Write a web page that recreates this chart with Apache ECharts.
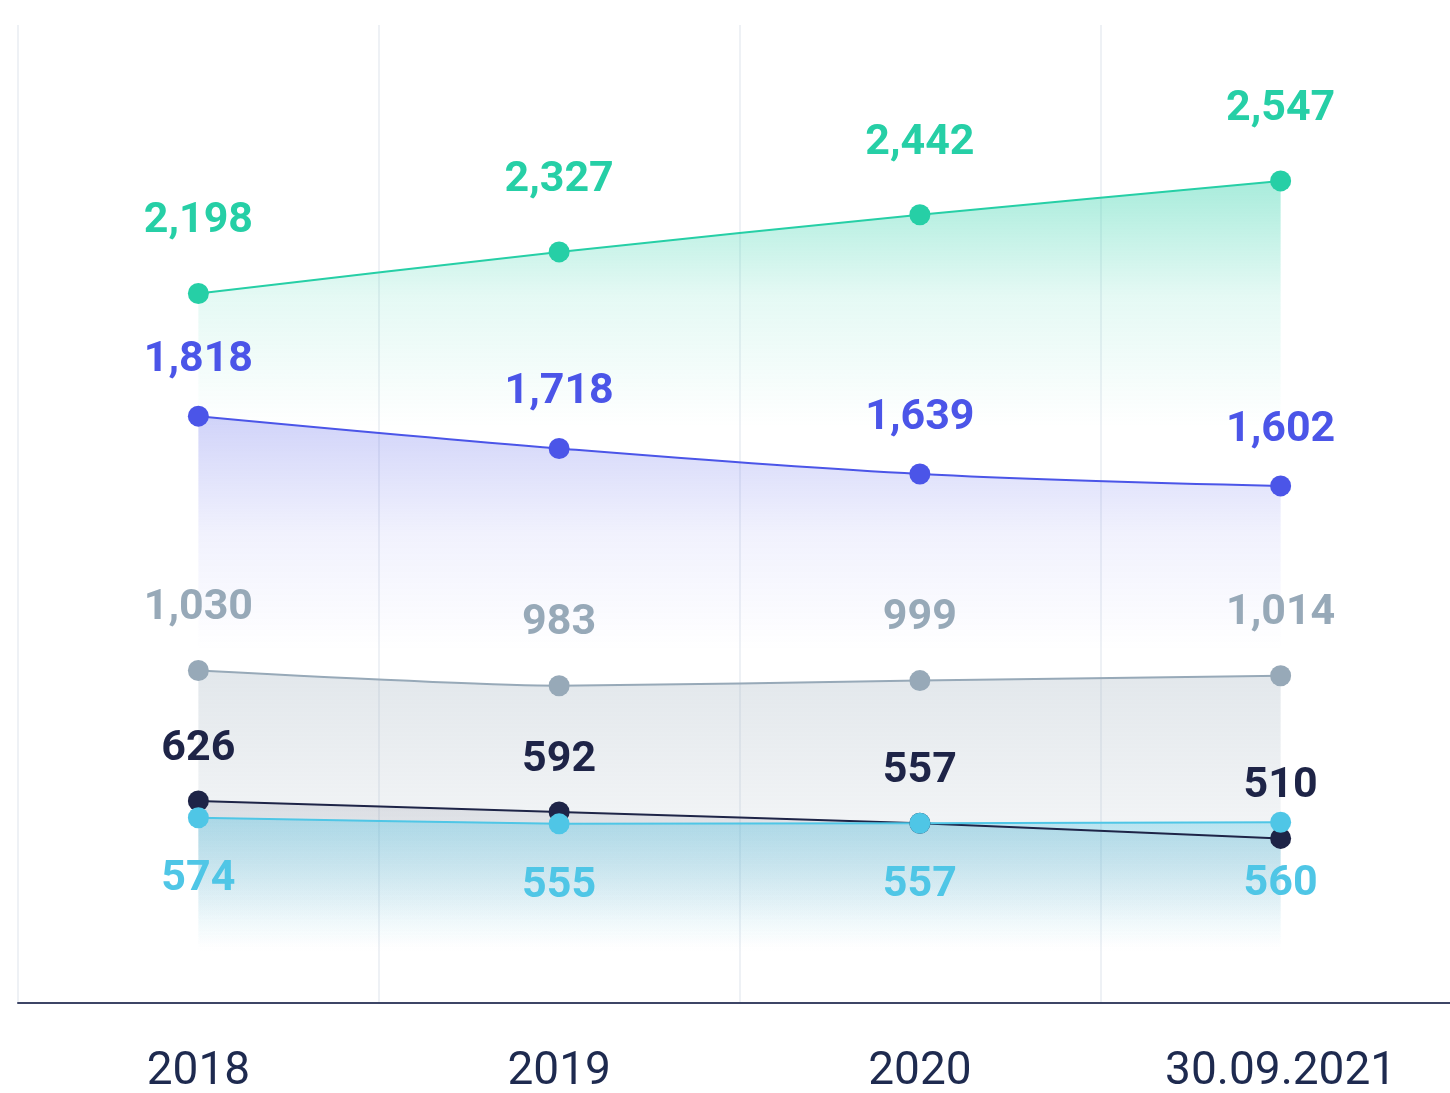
<!DOCTYPE html>
<html>
<head>
<meta charset="utf-8">
<script src="https://cdn.jsdelivr.net/npm/echarts@6/dist/echarts.min.js"></script>
<style>
  html, body { margin: 0; padding: 0; background: #fff; }
  #chart { width: 1450px; height: 1093px; }
</style>
</head>
<body>
<div id="chart"></div>
<script>
// categories and values
var years = ['2018', '2019', '2020', '30.09.2021']
var greenValues = [2198, 2327, 2442, 2547]
var purpleValues = [1818, 1718, 1639, 1602]
var greyValues = [1030, 983, 999, 1014]
var navyValues = [626, 592, 557, 510]
var blueValues = [574, 555, 557, 560]

var fontLabel = 'Roboto, "Noto Sans", sans-serif'

function fade(color, stops) {
  // vertical gradient from the line down to the axis
  return new echarts.graphic.LinearGradient(0, 0, 0, 1, stops.map(function (s) {
    return { offset: s[0], color: 'rgba(' + color + ',' + s[1] + ')' }
  }))
}

function makeSeries(name, values, color, rgb, stops, pos, dist, smooth) {
  return {
    name: name,
    type: 'line',
    data: values,
    smooth: smooth,
    symbol: 'circle',
    symbolSize: 21,
    lineStyle: { color: color, width: 2 },
    itemStyle: { color: color },
    areaStyle: { color: fade(rgb, stops), opacity: 1 },
    label: {
      show: true,
      position: pos,
      distance: dist,
      color: color,
      fontFamily: fontLabel,
      fontWeight: 'bold',
      fontSize: 43,
      formatter: function (p) {
        return p.value.toLocaleString('en-US')
      }
    }
  }
}

var chart = echarts.init(document.getElementById('chart'))

var option = {
  animation: false,
  grid: {
    left: 18,
    top: 25,
    bottom: 90,
    width: 1443,
    outerBoundsMode: 'none',
    containLabel: false
  },
  xAxis: {
    type: 'category',
    data: years,
    boundaryGap: true,
    axisLine: { lineStyle: { color: '#3d4566', width: 2 } },
    axisTick: { show: false },
    axisLabel: {
      color: '#1e2a4f',
      fontFamily: fontLabel,
      fontSize: 46,
      margin: 46
    },
    splitLine: { show: true, lineStyle: { color: '#eef1f5', width: 2 } }
  },
  yAxis: {
    type: 'value',
    min: 0,
    max: 3030,
    show: false,
    splitLine: { show: false }
  },
  series: [
    makeSeries('green', greenValues, '#26cfa6', '38,207,166', [[0, 0.4], [0.14, 0.12], [0.3, 0]], 'top', 40, 0.2),
    makeSeries('purple', purpleValues, '#4b55e8', '75,85,232', [[0, 0.26], [0.2, 0.08], [0.4, 0]], 'top', 24, 0.35),
    makeSeries('grey', greyValues, '#97a9b8', '151,169,184', [[0, 0.28], [0.85, 0]], 'top', 30, 0.2),
    makeSeries('navy', navyValues, '#1e2447', '30,36,71', [[0, 0.1], [0.6, 0]], 'top', 20, 0.1),
    makeSeries('blue', blueValues, '#4fc6e6', '79,198,230', [[0, 0.36], [0.7, 0]], 'bottom', 30, 0.1)
  ]
}

chart.setOption(option)
</script>
</body>
</html>
